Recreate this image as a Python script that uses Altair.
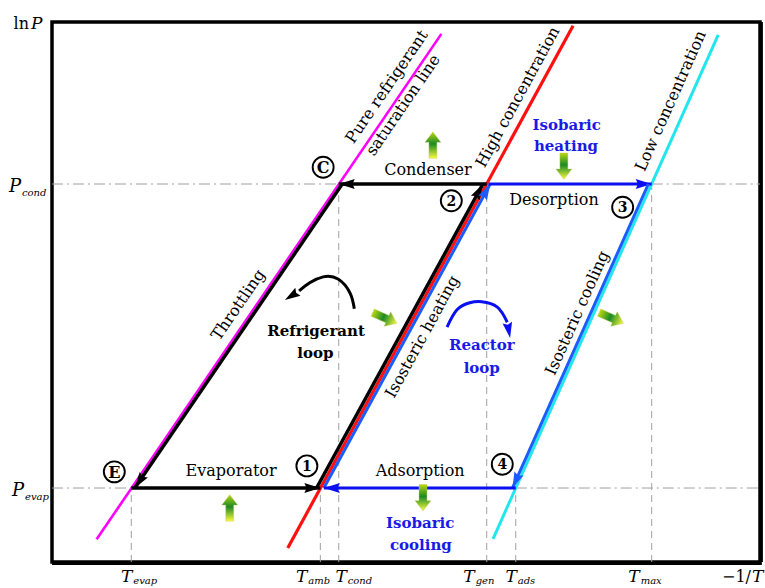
import math
import altair as alt
import pandas as pd

# ---------------------------------------------------------------- data
# Characteristic temperatures on the -1/T axis (arbitrary units, 0-100)
t_names = ["evap", "amb", "cond", "gen", "ads", "max"]
t_values = [11.2, 37.9, 40.5, 61.4, 65.5, 84.7]

# Working pressures on the ln P axis (arbitrary units, 0-100)
p_names = ["cond", "evap"]
p_values = [70.0, 13.7]

# Equilibrium lines: pure refrigerant, high and low sorbent concentration
iso_names = ["pure", "high", "low"]
iso_x0 = [6.3, 33.3, 62.3]
iso_y0 = [4.2, 2.6, 4.3]
iso_x1 = [55.0, 73.6, 94.1]
iso_y1 = [97.8, 99.3, 97.6]

# Curved loop arrows; the last point is the arrow tip
ref_loop_x = [42.7, 42.1, 40.4, 38.3, 36.4, 34.9, 32.9]
ref_loop_y = [46.9, 49.8, 52.4, 52.8, 51.7, 50.2, 48.5]
rea_loop_x = [55.8, 57.2, 59.0, 60.7, 62.9, 64.3, 64.7]
rea_loop_y = [43.5, 46.7, 48.0, 48.2, 47.2, 44.4, 41.5]

# ---------------------------------------------------------------- style
W, H = 708, 540
PX, PY = W / 100.0, H / 100.0
SERIF = "DejaVu Serif"
BLACK = "#000000"
BLUE = "#0a10f0"
BLUE_L = "#1a5cff"
TEXT_BLUE = "#1a1ae6"
GUIDE = "#a0a0a0"
ISO_COLORS = {"pure": "#ff00ff", "high": "#ff1010", "low": "#22e6ee"}
ISO_WIDTH = {"pure": 2.6, "high": 3.2, "low": 3.0}

# arrowhead with its tip at the symbol origin, pointing up
ARROW = "M0,0L0.62,2L0,1.72L-0.62,2Z"
# block arrows for heat flows
UP = "M0,-1L0.6,-0.22L0.3,-0.22L0.3,1L-0.3,1L-0.3,-0.22L-0.6,-0.22Z"
DOWN = "M0,1L0.6,0.22L0.3,0.22L0.3,-1L-0.3,-1L-0.3,0.22L-0.6,0.22Z"
HEAT_FILL = alt.Gradient(
    gradient="linear",
    stops=[
        alt.GradientStop(color="#b8d810", offset=0),
        alt.GradientStop(color="#1c8a26", offset=0.45),
        alt.GradientStop(color="#fbfb3c", offset=1),
    ],
    x1=0, x2=0, y1=0, y2=1,
)

xs = alt.Scale(domain=[0, 100], nice=False, zero=False)
ys = alt.Scale(domain=[0, 100], nice=False, zero=False)


def X(f="x"):
    return alt.X(f"{f}:Q", scale=xs, axis=None)


def Y(f="y"):
    return alt.Y(f"{f}:Q", scale=ys, axis=None)


def heading(dx, dy):
    """Screen direction of a data-space vector, degrees clockwise from up."""
    return math.degrees(math.atan2(dx * PX, dy * PY)) % 360


T = dict(zip(t_names, t_values))
P = dict(zip(p_names, p_values))
state = {
    "E": (T["evap"], P["evap"]),
    "1": (T["amb"], P["evap"]),
    "2": (T["gen"], P["cond"]),
    "C": (T["cond"], P["cond"]),
    "3": (T["max"], P["cond"]),
    "4": (T["ads"], P["evap"]),
}

layers = []

# ---------------------------------------------------------------- frame shadow (right and bottom edges)
edges = pd.DataFrame([
    {"x": 100, "y": 0, "x2": 100, "y2": 100, "dx": 1.8, "dy": 0},
    {"x": 0, "y": 0, "x2": 100, "y2": 0, "dx": 0, "dy": 1.8},
])
for _, e in edges.iterrows():
    layers.append(
        alt.Chart(pd.DataFrame([e.to_dict()])).mark_rule(
            color=BLACK, strokeWidth=2.2, xOffset=e["dx"], x2Offset=e["dx"] + (1.8 if e["dy"] else 0),
            yOffset=e["dy"], y2Offset=e["dy"])
        .encode(x=X(), y=Y(), x2="x2:Q", y2="y2:Q")
    )

# ---------------------------------------------------------------- guides
v_rows = []
for n, v in zip(t_names, t_values):
    top = P["cond"] if n in ("cond", "gen", "max") else P["evap"]
    v_rows.append({"x": v, "y": 0, "x2": v, "y2": top})
h_rows = [
    {"x": 0, "y": P["cond"], "x2": T["cond"], "y2": P["cond"]},
    {"x": T["max"], "y": P["cond"], "x2": 100, "y2": P["cond"]},
    {"x": 0, "y": P["evap"], "x2": T["evap"], "y2": P["evap"]},
    {"x": T["ads"], "y": P["evap"], "x2": 100, "y2": P["evap"]},
]
layers.append(
    alt.Chart(pd.DataFrame(v_rows)).mark_rule(color=GUIDE, strokeWidth=1, strokeDash=[7, 5])
    .encode(x=X(), y=Y(), x2="x2:Q", y2="y2:Q")
)
layers.append(
    alt.Chart(pd.DataFrame(h_rows)).mark_rule(color=GUIDE, strokeWidth=1, strokeDash=[11, 4, 2, 4])
    .encode(x=X(), y=Y(), x2="x2:Q", y2="y2:Q")
)

# ---------------------------------------------------------------- equilibrium lines
iso_df = pd.DataFrame({
    "name": iso_names, "x": iso_x0, "y": iso_y0, "x2": iso_x1, "y2": iso_y1,
})
iso_df["c"] = iso_df["name"].map(ISO_COLORS)
iso_df["w"] = iso_df["name"].map(ISO_WIDTH)
layers.append(
    alt.Chart(iso_df).mark_rule(strokeCap="butt")
    .encode(x=X(), y=Y(), x2="x2:Q", y2="y2:Q",
            color=alt.Color("c:N", scale=None),
            strokeWidth=alt.StrokeWidth("w:Q", scale=None))
)

# ---------------------------------------------------------------- cycle legs
# from, to, colour, width, offset at start, offset at end, offset of arrowhead (px)
legs = [
    ("1", "2", BLACK, 3.5, -3.8, -3.8, -3.8),
    ("2", "C", BLACK, 3.5, 0, 0, 0),
    ("C", "E", BLACK, 3.5, 3.5, 3.5, 3.5),
    ("E", "1", BLACK, 3.5, 0, 0, 0),
    ("1", "2", BLUE_L, 3.0, 3.5, 3.5, 3.5),
    ("2", "3", BLUE, 3.0, 2.0, 0, 0),
    ("3", "4", BLUE_L, 3.0, -3.3, -3.3, -3.3),
    ("4", "1", BLUE, 3.0, 0, 3.5, 3.5),
]
for a, b, col, w, o1, o2, oa in legs:
    (xa, ya), (xb, yb) = state[a], state[b]
    seg = pd.DataFrame([{"x": xa, "y": ya, "x2": xb, "y2": yb}])
    layers.append(
        alt.Chart(seg).mark_rule(color=col, strokeWidth=w, strokeCap="butt",
                                 xOffset=o1, x2Offset=o2)
        .encode(x=X(), y=Y(), x2="x2:Q", y2="y2:Q")
    )
    tip = pd.DataFrame([{"x": xb, "y": yb, "a": heading(xb - xa, yb - ya)}])
    layers.append(
        alt.Chart(tip).mark_point(shape=ARROW, size=256, filled=True, color=col,
                                  opacity=1, strokeWidth=0, xOffset=oa)
        .encode(x=X(), y=Y(), angle=alt.Angle("a:Q", scale=None))
    )

# ---------------------------------------------------------------- loop arrows
for lx, ly, col in [(ref_loop_x, ref_loop_y, BLACK), (rea_loop_x, rea_loop_y, BLUE)]:
    body = pd.DataFrame({"x": lx[:-1], "y": ly[:-1], "o": list(range(len(lx) - 1))})
    layers.append(
        alt.Chart(body).mark_line(color=col, strokeWidth=3, interpolate="natural",
                                  strokeCap="butt")
        .encode(x=X(), y=Y(), order="o:Q")
    )
    tip = pd.DataFrame([{"x": lx[-1], "y": ly[-1],
                         "a": heading(lx[-1] - lx[-2], ly[-1] - ly[-2])}])
    layers.append(
        alt.Chart(tip).mark_point(shape=ARROW, size=240, filled=True, color=col,
                                  opacity=1, strokeWidth=0)
        .encode(x=X(), y=Y(), angle=alt.Angle("a:Q", scale=None))
    )

# ---------------------------------------------------------------- heat flow arrows
heat_up = pd.DataFrame({"x": [53.8, 25.1], "y": [77.2, 10.0], "a": [0, 0]})
heat_down = pd.DataFrame({"x": [72.3, 52.4, 47.0, 79.0],
                          "y": [73.3, 11.9, 45.2, 45.2],
                          "a": [0, 0, 294, 294]})
for df, shape in [(heat_up, UP), (heat_down, DOWN)]:
    layers.append(
        alt.Chart(df).mark_point(shape=shape, size=700, filled=True, fill=HEAT_FILL,
                                 opacity=1, stroke="#c8c860", strokeWidth=0.4)
        .encode(x=X(), y=Y(), angle=alt.Angle("a:Q", scale=None))
    )

# ---------------------------------------------------------------- state markers
marks = pd.DataFrame({
    "t": ["1", "2", "3", "4", "C", "E"],
    "x": [36.0, 56.4, 80.6, 63.6, 38.3, 8.8],
    "y": [17.8, 66.9, 65.7, 18.1, 73.1, 16.7],
    "wt": ["bold", "bold", "bold", "bold", "normal", "normal"],
})
layers.append(
    alt.Chart(marks).mark_point(shape="circle", size=440, filled=False, stroke=BLACK,
                                strokeWidth=1.9, opacity=1)
    .encode(x=X(), y=Y())
)
layers.append(
    alt.Chart(marks[marks["wt"] == "bold"]).mark_text(
        font=SERIF, fontSize=14, fontWeight="bold", color=BLACK,
        baseline="middle", align="center", dy=1)
    .encode(x=X(), y=Y(), text="t:N")
)
layers.append(
    alt.Chart(marks[marks["wt"] == "normal"]).mark_text(
        font=SERIF, fontSize=16, fontWeight=600, color=BLACK,
        baseline="middle", align="center", dy=1)
    .encode(x=X(), y=Y(), text="t:N")
)

# ---------------------------------------------------------------- process labels
def iso_angle(i):
    return (heading(iso_x1[i] - iso_x0[i], iso_y1[i] - iso_y0[i]) - 90) % 360


a_pure, a_high, a_low = iso_angle(0), iso_angle(1), iso_angle(2)
along = pd.DataFrame({
    "t": ["Pure refrigerant", "saturation line", "High concentration",
          "Low concentration", "Throttling", "Isosteric heating", "Isosteric cooling"],
    "x": [47.3, 49.6, 65.8, 87.4, 26.3, 52.3, 74.2],
    "y": [88.0, 84.6, 86.1, 85.4, 47.6, 41.7, 46.1],
    "a": [a_pure, a_pure, a_high, a_low, a_pure, a_high, a_low],
})
layers.append(
    alt.Chart(along).mark_text(font=SERIF, fontSize=16, color=BLACK,
                               baseline="middle", align="center")
    .encode(x=X(), y=Y(), text="t:N", angle=alt.Angle("a:Q", scale=None))
)

flat = pd.DataFrame({
    "t": ["Condenser", "Desorption", "Evaporator", "Adsorption"],
    "x": [53.1, 70.9, 25.3, 52.0],
    "y": [72.6, 67.0, 16.8, 16.8],
})
layers.append(
    alt.Chart(flat).mark_text(font=SERIF, fontSize=16, color=BLACK,
                              baseline="middle", align="center")
    .encode(x=X(), y=Y(), text="t:N")
)

bold_black = pd.DataFrame({"t": ["Refrigerant", "loop"], "x": [37.3, 37.2], "y": [42.8, 38.7]})
layers.append(
    alt.Chart(bold_black).mark_text(font=SERIF, fontSize=15, fontWeight="bold", color=BLACK,
                                    baseline="middle", align="center")
    .encode(x=X(), y=Y(), text="t:N")
)
bold_blue = pd.DataFrame({
    "t": ["Isobaric", "heating", "Reactor", "loop", "Isobaric", "cooling"],
    "x": [72.7, 72.6, 60.7, 60.7, 52.0, 52.1],
    "y": [80.9, 77.0, 40.2, 35.9, 7.2, 3.1],
})
layers.append(
    alt.Chart(bold_blue).mark_text(font=SERIF, fontSize=15, fontWeight="bold", color=TEXT_BLUE,
                                   baseline="middle", align="center")
    .encode(x=X(), y=Y(), text="t:N")
)

# ---------------------------------------------------------------- axis labels
t_shift = {"evap": 1, "amb": -13, "cond": 8, "gen": -12, "ads": 1, "max": -12}
tl = pd.DataFrame({"sub": t_names, "v": t_values})
tl["x"] = tl["v"] + tl["sub"].map(t_shift) / PX
tl["y"] = 0.0
tl["main"] = "T"
layers.append(
    alt.Chart(tl).mark_text(font=SERIF, fontSize=17, fontStyle="italic", color=BLACK,
                            align="right", baseline="middle", dy=15)
    .encode(x=X(), y=Y(), text="main:N")
)
layers.append(
    alt.Chart(tl).mark_text(font=SERIF, fontSize=10, fontStyle="italic", color=BLACK,
                            align="left", baseline="middle", dy=19, dx=1)
    .encode(x=X(), y=Y(), text="sub:N")
)

p_shift = {"cond": -31, "evap": -28}
pl = pd.DataFrame({"sub": p_names, "y": p_values})
pl["x"] = pl["sub"].map(p_shift) / PX
pl["main"] = "P"
layers.append(
    alt.Chart(pl).mark_text(font=SERIF, fontSize=18, fontStyle="italic", color=BLACK,
                            align="right", baseline="middle", dy=3)
    .encode(x=X(), y=Y(), text="main:N")
)
layers.append(
    alt.Chart(pl).mark_text(font=SERIF, fontSize=10, fontStyle="italic", color=BLACK,
                            align="left", baseline="middle", dy=9, dx=1)
    .encode(x=X(), y=Y(), text="sub:N")
)

corner = pd.DataFrame({"x": [0.0], "y": [100.0], "x2": [100.0], "y2": [0.0]})
layers.append(
    alt.Chart(corner).mark_text(font=SERIF, fontSize=16, color=BLACK, align="right",
                                baseline="middle", dx=-23, dy=2, text="ln")
    .encode(x=X(), y=Y())
)
layers.append(
    alt.Chart(corner).mark_text(font=SERIF, fontSize=17, fontStyle="italic", color=BLACK,
                                align="left", baseline="middle", dx=-21, dy=2, text="P")
    .encode(x=X(), y=Y())
)
layers.append(
    alt.Chart(corner).mark_text(font=SERIF, fontSize=16, color=BLACK, align="right",
                                baseline="middle", dx=-9, dy=15, text="\u22121/")
    .encode(x=alt.X("x2:Q", scale=xs, axis=None), y=alt.Y("y2:Q", scale=ys, axis=None))
)
layers.append(
    alt.Chart(corner).mark_text(font=SERIF, fontSize=17, fontStyle="italic", color=BLACK,
                                align="left", baseline="middle", dx=-8, dy=15, text="T")
    .encode(x=alt.X("x2:Q", scale=xs, axis=None), y=alt.Y("y2:Q", scale=ys, axis=None))
)

chart = (
    alt.layer(*layers)
    .properties(
        width=W, height=H,
        padding={"left": 52, "top": 22, "right": 5, "bottom": 26},
        autosize=alt.AutoSizeParams(type="none"),
        background="white",
    )
    .configure_view(stroke=BLACK, strokeWidth=3.5)
)

chart.save("out.html", embed_options={"renderer": "svg", "actions": False})
